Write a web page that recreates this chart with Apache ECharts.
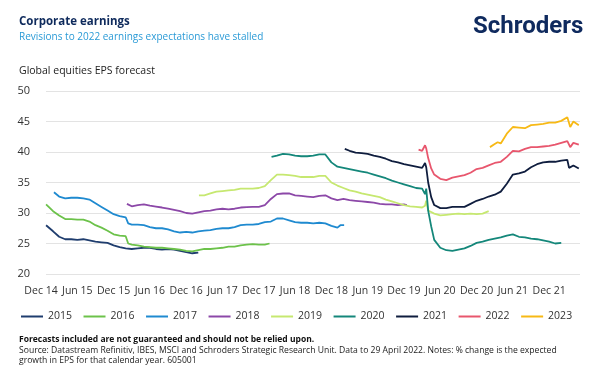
<!DOCTYPE html>
<html>
<head>
<meta charset="utf-8">
<script src="https://cdn.jsdelivr.net/npm/echarts@6/dist/echarts.min.js"></script>
<style>
html,body{margin:0;padding:0;background:#fff;}
#chart{width:600px;height:383px;}
</style>
</head>
<body>
<div id="chart"></div>
<script>
// ---- Data (EPS forecast for each calendar year) ----
const seriesNames = ['2015','2016','2017','2018','2019','2020','2021','2022','2023'];
const xTickLabels = ['Dec 14','Jun 15','Dec 15','Jun 16','Dec 16','Jun 17','Dec 17','Jun 18','Dec 18','Jun 19','Dec 19','Jun 20','Dec 20','Jun 21','Dec 21'];
const yTicks = [20, 25, 30, 35, 40, 45, 50];

const eps2015 = [['2014-12-27',28.0],['2015-01-01',27.8],['2015-02-01',27.0],['2015-03-01',26.1],['2015-04-01',25.7],['2015-05-01',25.7],['2015-06-01',25.6],['2015-07-01',25.7],['2015-08-01',25.5],['2015-09-01',25.3],['2015-10-01',25.2],['2015-11-01',25.1],['2015-12-01',24.7],['2016-01-01',24.4],['2016-02-01',24.2],['2016-03-01',24.1],['2016-04-01',24.2],['2016-05-01',24.3],['2016-06-01',24.3],['2016-07-01',24.1],['2016-08-01',24.0],['2016-09-01',24.1],['2016-10-01',24.0],['2016-11-01',23.8],['2016-12-01',23.6],['2017-01-01',23.4],['2017-02-01',23.5]];
const eps2016 = [['2014-12-27',31.4],['2015-01-01',31.2],['2015-02-01',30.3],['2015-03-01',29.6],['2015-04-01',29.0],['2015-05-01',29.0],['2015-06-01',28.9],['2015-07-01',28.9],['2015-08-01',28.6],['2015-09-01',28.0],['2015-10-01',27.6],['2015-11-01',27.1],['2015-12-01',26.5],['2016-01-01',26.3],['2016-02-01',26.2],['2016-02-13',25.0],['2016-03-01',24.8],['2016-04-01',24.7],['2016-05-01',24.5],['2016-06-01',24.4],['2016-07-01',24.3],['2016-08-01',24.3],['2016-09-01',24.2],['2016-10-01',24.1],['2016-11-01',24.0],['2016-12-01',23.8],['2017-01-01',23.7],['2017-02-01',23.9],['2017-03-01',24.1],['2017-04-01',24.1],['2017-05-01',24.2],['2017-06-01',24.3],['2017-07-01',24.5],['2017-08-01',24.5],['2017-09-01',24.7],['2017-10-01',24.8],['2017-11-01',24.9],['2017-12-01',24.8],['2018-01-01',24.8],['2018-01-25',25.0]];
const eps2017 = [['2015-02-05',33.4],['2015-03-01',32.7],['2015-04-01',32.4],['2015-05-01',32.5],['2015-06-01',32.5],['2015-07-01',32.4],['2015-08-01',32.2],['2015-09-01',31.6],['2015-10-01',31.0],['2015-11-01',30.4],['2015-12-01',29.8],['2016-01-01',29.5],['2016-02-01',29.3],['2016-02-13',28.3],['2016-03-01',28.1],['2016-04-01',28.1],['2016-05-01',28.0],['2016-06-01',27.7],['2016-07-01',27.5],['2016-08-01',27.5],['2016-09-01',27.3],['2016-10-01',27.0],['2016-11-01',26.8],['2016-12-01',26.9],['2017-01-01',26.8],['2017-02-01',27.0],['2017-03-01',27.1],['2017-04-01',27.2],['2017-05-01',27.4],['2017-06-01',27.5],['2017-07-01',27.5],['2017-08-01',27.7],['2017-09-01',28.0],['2017-10-01',28.1],['2017-11-01',28.1],['2017-12-01',28.2],['2018-01-01',28.5],['2018-02-01',28.6],['2018-03-01',29.1],['2018-04-01',29.1],['2018-05-01',28.8],['2018-06-01',28.5],['2018-07-01',28.4],['2018-08-01',28.4],['2018-09-01',28.3],['2018-10-01',28.4],['2018-11-01',28.3],['2018-12-01',27.9],['2019-01-01',27.6],['2019-01-16',28.0],['2019-02-04',28.0]];
const eps2018 = [['2016-02-07',31.5],['2016-03-01',31.1],['2016-04-01',31.3],['2016-05-01',31.4],['2016-06-01',31.2],['2016-07-01',31.05],['2016-08-01',30.9],['2016-09-01',30.7],['2016-10-01',30.5],['2016-11-01',30.3],['2016-12-01',30.0],['2017-01-01',29.9],['2017-02-01',30.1],['2017-03-01',30.3],['2017-04-01',30.4],['2017-05-01',30.6],['2017-06-01',30.7],['2017-07-01',30.6],['2017-08-01',30.7],['2017-09-01',30.9],['2017-10-01',30.95],['2017-11-01',31.0],['2017-12-01',31.0],['2018-01-01',31.3],['2018-02-01',32.3],['2018-03-01',33.1],['2018-04-01',33.2],['2018-05-01',33.2],['2018-06-01',32.9],['2018-07-01',32.8],['2018-08-01',32.7],['2018-09-01',32.6],['2018-10-01',32.8],['2018-11-01',32.9],['2018-12-01',32.4],['2019-01-01',32.1],['2019-02-01',32.3],['2019-03-01',32.1],['2019-04-01',32.0],['2019-05-01',31.9],['2019-06-01',31.8],['2019-07-01',31.7],['2019-08-01',31.5],['2019-09-01',31.4],['2019-10-01',31.4],['2019-11-01',31.3],['2019-12-01',31.4],['2019-12-16',31.3]];
const eps2019 = [['2017-02-04',32.9],['2017-03-01',32.9],['2017-04-01',33.2],['2017-05-01',33.5],['2017-06-01',33.6],['2017-07-01',33.7],['2017-08-01',33.8],['2017-09-01',34.0],['2017-10-01',34.0],['2017-11-01',34.0],['2017-12-01',34.1],['2018-01-01',34.4],['2018-02-01',35.4],['2018-03-01',36.3],['2018-04-01',36.3],['2018-05-01',36.2],['2018-06-01',36.1],['2018-07-01',35.9],['2018-08-01',35.9],['2018-09-01',35.9],['2018-10-01',36.1],['2018-11-01',36.1],['2018-12-01',35.0],['2019-01-01',34.5],['2019-02-01',34.1],['2019-03-01',33.7],['2019-04-01',33.5],['2019-05-01',33.2],['2019-06-01',33.0],['2019-07-01',32.8],['2019-08-01',32.6],['2019-09-01',32.2],['2019-10-01',31.9],['2019-11-01',31.6],['2019-12-01',31.3],['2020-01-01',31.1],['2020-02-01',31.0],['2020-03-01',30.9],['2020-03-16',31.2],['2020-03-22',32.0],['2020-04-01',30.4],['2020-05-01',29.9],['2020-06-01',29.6],['2020-07-01',29.7],['2020-08-01',29.8],['2020-09-01',29.9],['2020-10-01',29.8],['2020-11-01',29.9],['2020-12-01',29.8],['2021-01-01',29.9],['2021-02-01',30.3]];
const eps2020 = [['2018-02-04',39.2],['2018-03-01',39.4],['2018-04-01',39.7],['2018-05-01',39.6],['2018-06-01',39.4],['2018-07-01',39.3],['2018-08-01',39.3],['2018-09-01',39.4],['2018-10-01',39.6],['2018-11-01',39.6],['2018-12-01',38.3],['2019-01-01',37.6],['2019-02-01',37.4],['2019-03-01',37.2],['2019-04-01',37.0],['2019-05-01',36.8],['2019-06-01',36.6],['2019-07-01',36.3],['2019-08-01',36.0],['2019-09-01',35.7],['2019-10-01',35.3],['2019-11-01',35.0],['2019-12-01',34.7],['2020-01-01',34.4],['2020-02-01',34.1],['2020-03-01',34.0],['2020-03-16',33.1],['2020-03-22',34.0],['2020-04-01',30.4],['2020-04-16',27.8],['2020-05-01',25.6],['2020-06-01',24.3],['2020-07-01',23.9],['2020-08-01',23.8],['2020-09-01',24.0],['2020-10-01',24.2],['2020-11-01',24.6],['2020-12-01',25.1],['2021-01-01',25.3],['2021-02-01',25.6],['2021-03-01',25.8],['2021-04-01',26.0],['2021-05-01',26.3],['2021-06-01',26.5],['2021-07-01',26.1],['2021-08-01',26.0],['2021-09-01',25.8],['2021-10-01',25.7],['2021-11-01',25.5],['2021-12-01',25.3],['2022-01-01',25.0],['2022-02-01',25.1]];
const eps2021 = [['2019-02-07',40.5],['2019-03-01',40.2],['2019-04-01',39.9],['2019-05-01',39.8],['2019-06-01',39.7],['2019-07-01',39.4],['2019-08-01',39.2],['2019-09-01',38.9],['2019-10-01',38.5],['2019-11-01',38.3],['2019-12-01',38.0],['2020-01-01',37.8],['2020-02-01',37.6],['2020-03-01',37.4],['2020-03-16',38.2],['2020-03-22',37.5],['2020-04-01',35.0],['2020-04-16',32.6],['2020-05-01',31.3],['2020-06-01',30.8],['2020-07-01',30.8],['2020-08-01',31.0],['2020-09-01',31.0],['2020-10-01',31.0],['2020-11-01',31.5],['2020-12-01',32.0],['2021-01-01',32.3],['2021-02-01',32.7],['2021-03-01',33.0],['2021-04-01',33.5],['2021-05-01',34.8],['2021-06-01',36.3],['2021-07-01',36.5],['2021-08-01',36.8],['2021-09-01',37.5],['2021-10-01',38.0],['2021-11-01',38.3],['2021-12-01',38.4],['2022-01-01',38.4],['2022-02-01',38.6],['2022-03-01',38.7],['2022-03-10',37.4],['2022-04-01',37.8],['2022-04-28',37.3]];
const eps2022 = [['2020-02-13',40.4],['2020-03-01',40.2],['2020-03-16',41.1],['2020-03-22',40.6],['2020-04-01',39.0],['2020-04-16',37.3],['2020-05-01',36.3],['2020-06-01',35.6],['2020-07-01',35.4],['2020-08-01',35.8],['2020-09-01',36.0],['2020-10-01',36.2],['2020-11-01',36.6],['2020-12-01',37.2],['2021-01-01',37.4],['2021-02-01',37.8],['2021-03-01',38.2],['2021-04-01',38.4],['2021-05-01',39.2],['2021-06-01',40.2],['2021-07-01',40.1],['2021-08-01',40.5],['2021-09-01',40.8],['2021-10-01',40.8],['2021-11-01',40.9],['2021-12-01',41.0],['2022-01-01',41.2],['2022-02-01',41.5],['2022-03-01',41.8],['2022-03-16',40.8],['2022-04-01',41.5],['2022-04-28',41.2]];
const eps2023 = [['2021-02-07',40.8],['2021-03-01',41.3],['2021-03-16',41.6],['2021-04-01',41.4],['2021-05-01',43.0],['2021-06-01',44.1],['2021-07-01',44.0],['2021-08-01',43.9],['2021-09-01',44.4],['2021-10-01',44.5],['2021-11-01',44.6],['2021-12-01',44.8],['2022-01-01',44.8],['2022-02-01',45.1],['2022-03-01',45.7],['2022-03-16',44.1],['2022-04-01',45.0],['2022-04-28',44.4]];

const allSeries = [eps2015, eps2016, eps2017, eps2018, eps2019, eps2020, eps2021, eps2022, eps2023];
const colors = ['#1f3d6e','#6cc24a','#1f8ad0','#8c48a8','#c6e870','#14877a','#0f1d3e','#e8566d','#f7b915'];

// months elapsed since 1 Dec 2014 (axis unit)
function monthIndex(s){
  const p = s.split('-').map(Number);
  const dim = new Date(p[0], p[1], 0).getDate();
  return (p[0]-2014)*12 + (p[1]-12) + (p[2]-1)/dim;
}
const AXIS_END = monthIndex('2022-05-04');

const chart = echarts.init(document.getElementById('chart'), null, {renderer:'canvas'});
const FONT = '"Open Sans", "Noto Sans", sans-serif';

// label axis grid starts at "Dec 14"; plotting grid starts a little later
const labelLeft = 41, plotLeft = 46, right = 20;
const pxPerMonth = (600 - right - labelLeft) / AXIS_END;
const plotMin = AXIS_END - (600 - right - plotLeft) / pxPerMonth;

const option = {
  backgroundColor: '#fff',
  animation: false,
  color: colors,
  textStyle: {fontFamily: FONT},
  grid: [
    {left: plotLeft, right: right, top: 91, bottom: 109},
    {left: labelLeft, right: right, top: 91, bottom: 109}
  ],
  xAxis: [
    {type:'value', gridIndex:0, min: plotMin, max: AXIS_END, show:false},
    {type:'value', gridIndex:1, min: 0, max: AXIS_END, interval: 6,
     axisLine:{show:false}, axisTick:{show:false}, splitLine:{show:false},
     axisLabel:{fontSize:10.5, color:'#333', margin:12, fontFamily: FONT,
       formatter: v => (Math.abs(v/6 - Math.round(v/6)) < 1e-6 ? (xTickLabels[Math.round(v/6)] || '') : '')}}
  ],
  yAxis: [
    {type:'value', gridIndex:0, min: yTicks[0], max: yTicks[yTicks.length-1], interval: 5,
     axisLine:{show:false}, axisTick:{show:false},
     splitLine:{lineStyle:{color:'#e3e3e3', width:1}},
     axisLabel:{fontSize:11, color:'#333', margin:16, fontFamily: FONT}},
    {type:'value', gridIndex:1, min: yTicks[0], max: yTicks[yTicks.length-1], show:false}
  ],
  legend: {
    data: seriesNames, left: 16, top: 306, icon: 'rect', itemWidth: 22, itemHeight: 2,
    itemGap: 11.5, textStyle: {fontSize: 10.5, color: '#333', fontFamily: FONT}
  },
  series: seriesNames.map((name, i) => ({
    name: name, type: 'line', xAxisIndex: 0, yAxisIndex: 0,
    showSymbol: false, symbol: 'none',
    lineStyle: {width: 1.8, color: colors[i]},
    itemStyle: {color: colors[i]},
    data: allSeries[i].map(d => [monthIndex(d[0]), d[1]])
  })),
  graphic: [
    {type:'text', left: 19, top: 16, style:{text:'Corporate earnings', font:'bold 11.5px ' + FONT, fill:'#0e2a5c'}},
    {type:'text', left: 19, top: 32, style:{text:'Revisions to 2022 earnings expectations have stalled', font:'10px ' + FONT, fill:'#2a9ad6'}},
    {type:'text', left: 473, top: 15, style:{text:'Schroders', font:'bold 24px Roboto, ' + FONT, fill:'#0f2a5e'}},
    {type:'text', left: 19, top: 66, style:{text:'Global equities EPS forecast', font:'10.5px ' + FONT, fill:'#222'}},
    {type:'text', left: 19, top: 335, style:{text:'Forecasts included are not guaranteed and should not be relied upon.', font:'bold 8.5px ' + FONT, fill:'#111'}},
    {type:'text', left: 19, top: 346, style:{text:'Source: Datastream Refinitiv, IBES, MSCI and Schroders Strategic Research Unit. Data to 29 April 2022. Notes: % change is the expected', font:'8.6px ' + FONT, fill:'#222'}},
    {type:'text', left: 19, top: 356, style:{text:'growth in EPS for that calendar year. 605001', font:'8.6px ' + FONT, fill:'#222'}}
  ]
};
chart.setOption(option);
</script>
</body>
</html>
